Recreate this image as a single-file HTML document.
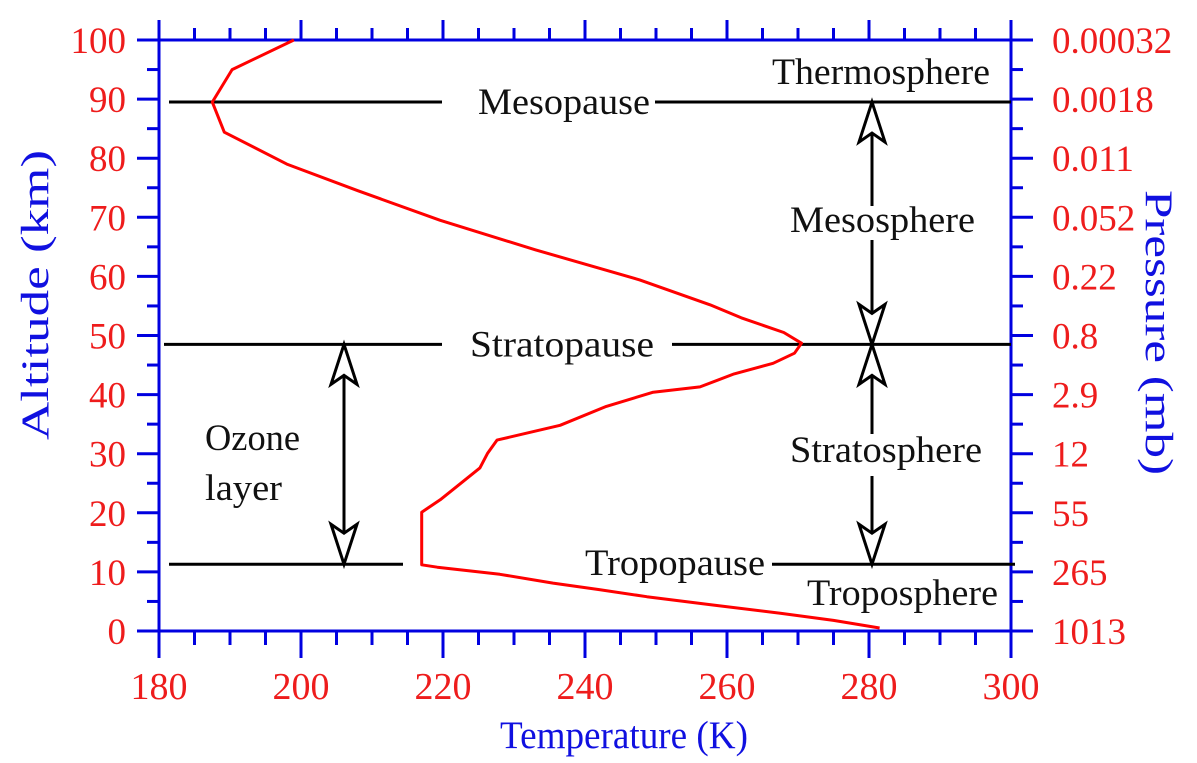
<!DOCTYPE html>
<html><head><meta charset="utf-8"><style>
html,body{margin:0;padding:0;background:#fff;}
svg{display:block;font-family:"Liberation Serif",serif;}
</style></head><body>
<svg id="chart" width="1197" height="763" viewBox="0 0 1197 763" xmlns="http://www.w3.org/2000/svg">
<g id="axes"></g>
<g id="layers"></g>
<g id="series"></g>
<text x="500" y="748" font-size="39" fill="#1010e0" textLength="248" lengthAdjust="spacingAndGlyphs">Temperature (K)</text>
<text transform="translate(48,440) rotate(-90)" font-size="39" fill="#1010e0" textLength="290" lengthAdjust="spacingAndGlyphs">Altitude (km)</text>
<text transform="translate(1146,190) rotate(90)" font-size="39" fill="#1010e0" textLength="285" lengthAdjust="spacingAndGlyphs">Pressure (mb)</text>
</svg>
<script>
const tempK = [199,190.3,187.5,189.2,198,208,219.6,233,247.7,257.6,262,268,270.5,269.5,266.5,261,256.2,249.6,243,236.5,227.6,226.3,225.2,222,219.6,217,217,219.2,228,235.5,242,248.7,258,267.5,275,281.5];
const altKm = [100,95,89.5,84.4,79,74.5,69.5,64.5,59.4,55.2,53,50.5,48.7,47,45.3,43.5,41.3,40.4,38,34.8,32.3,30.1,27.6,24.5,22.2,20.1,11.2,10.8,9.6,8.1,7,5.8,4.4,3,1.8,0.5];
const xTicks = [180,200,220,240,260,280,300];
const yTicks = [0,10,20,30,40,50,60,70,80,90,100];
const pressureLabels = ["1013","265","55","12","2.9","0.8","0.22","0.052","0.011","0.0018","0.00032"];
const pauseAlt = [11.3,48.5,89.5];

const X0=159,X1=1011,Y0=631,Y1=40;
const xs=t=>X0+(t-180)/120*(X1-X0);
const ys=z=>Y0-z/100*(Y0-Y1);
const NS="http://www.w3.org/2000/svg";
function mk(tag,parent,attrs){const e=document.createElementNS(NS,tag);for(const k in attrs)e.setAttribute(k,attrs[k]);parent.appendChild(e);return e;}
const axes=document.getElementById('axes');
const blue="#0000e0",red="#ee1c1c";
let fr=mk('rect',axes,{x:X0,y:Y1,width:X1-X0,height:Y0-Y1,fill:'none',stroke:blue,'stroke-width':3});


for(let t=180;t<=300;t+=5){
  const major=(t%20===0);const x=xs(t);
  let l=mk('line',axes,{x1:x,x2:x,y1:Y0,y2:Y0+(major?27:14),stroke:blue,'stroke-width':3});
  
  
  let l2=mk('line',axes,{x1:x,x2:x,y1:Y1,y2:Y1-(major?20:12),stroke:blue,'stroke-width':3});
  
  
}
xTicks.forEach(t=>{
  let tx=mk('text',axes,{x:xs(t),y:699,'font-size':38,fill:red,'text-anchor':'middle'});
  tx.textContent=t;
  
  
});
for(let z=0;z<=100;z+=5){
  const major=(z%10===0);const y=ys(z);
  let l=mk('line',axes,{x1:X0,x2:X0-(major?22:12),y1:y,y2:y,stroke:blue,'stroke-width':3});
  
  
  let l2=mk('line',axes,{x1:X1,x2:X1+(major?22:12),y1:y,y2:y,stroke:blue,'stroke-width':3});
  
  
}
yTicks.forEach((z,i)=>{
  let tx=mk('text',axes,{x:126,y:ys(z)+13,'font-size':37,fill:red,'text-anchor':'end'});
  tx.textContent=z;
  
  
  let t2=mk('text',axes,{x:1052,y:ys(z)+13,'font-size':37,fill:red,'text-anchor':'start'});
  t2.textContent=pressureLabels[i];
  
  
});
const lay=document.getElementById('layers');
function seg(x1,x2,y,name){let l=mk('line',lay,{x1:x1,x2:x2,y1:y,y2:y,stroke:'#000','stroke-width':3});}
function label(x,y,w,s,name){let t=mk('text',lay,{x:x,y:y,'font-size':37,fill:'#111',textLength:w,lengthAdjust:'spacingAndGlyphs'});t.textContent=s;}
const yT=ys(pauseAlt[0]),yS=ys(pauseAlt[1]),yM=ys(pauseAlt[2]);
seg(169,442,yM,'mesopause-line-left');seg(655,1011,yM,'mesopause-line-right');label(478,yM+12,172,'Mesopause','mesopause-label');
seg(164,442,yS,'stratopause-line-left');seg(672,1011,yS,'stratopause-line-right');label(470,yS+12,184,'Stratopause','stratopause-label');
seg(169,403,yT,'tropopause-line-left');seg(772,1015,yT,'tropopause-line-right');label(585,yT+11,180,'Tropopause','tropopause-label');
label(772,84,218,'Thermosphere','thermosphere-label');
label(790,232,185,'Mesosphere','mesosphere-label');
label(790,462,192,'Stratosphere','stratosphere-label');
label(807,605,191,'Troposphere','troposphere-label');
label(205,450,95,'Ozone','ozone-label');
label(205,500,77,'layer','ozone-layer-label');
function head(x,y,dir,name){
  const h=40,w=13,n=9;
  const pts=[[x,y],[x+w,y-dir*h],[x,y-dir*(h-n)],[x-w,y-dir*h]].map(p=>p.join(',')).join(' ');
  let p=mk('polygon',lay,{points:pts,fill:'#fff',stroke:'#000','stroke-width':3,'stroke-linejoin':'miter'});
  
}
function vline(x,y1,y2,name){let l=mk('line',lay,{x1:x,x2:x,y1:y1,y2:y2,stroke:'#000','stroke-width':3});}
const AX=872;
vline(AX,yM+32,206,'mesosphere-arrow-top');vline(AX,240,yS-32,'mesosphere-arrow-bottom');
head(AX,yM,-1,'mesosphere-arrowhead-up');head(AX,yS,1,'mesosphere-arrowhead-down');
vline(AX,yS+32,434,'stratosphere-arrow-top');vline(AX,476,yT-32,'stratosphere-arrow-bottom');
head(AX,yS,-1,'stratosphere-arrowhead-up');head(AX,yT,1,'stratosphere-arrowhead-down');
vline(344,yS+32,yT-32,'ozone-arrow-line');
head(344,yS,-1,'ozone-arrowhead-up');head(344,yT,1,'ozone-arrowhead-down');
const ser=document.getElementById('series');
let pl=mk('polyline',ser,{points:tempK.map((t,i)=>xs(t).toFixed(1)+','+ys(altKm[i]).toFixed(1)).join(' '),fill:'none',stroke:'#ff0000','stroke-width':3,'stroke-linejoin':'round'});


</script>
</body></html>
